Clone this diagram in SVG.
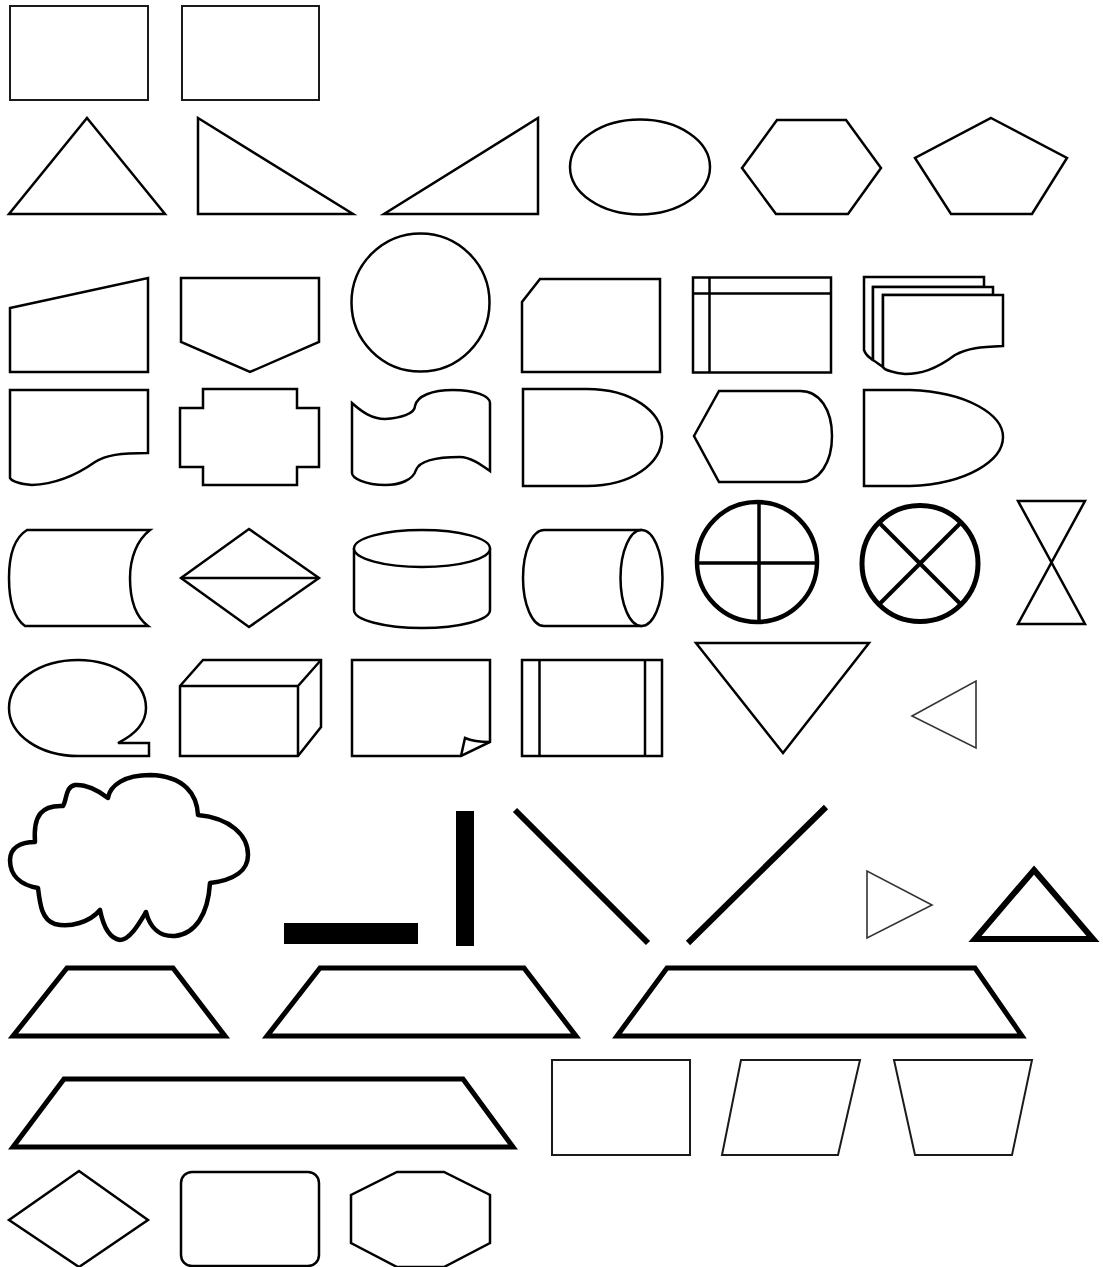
<svg xmlns="http://www.w3.org/2000/svg" width="1103" height="1267" viewBox="0 0 1103 1267">
<style>
.s{fill:#fff;stroke:#000;stroke-width:2.5;stroke-linejoin:miter}
.n{fill:none;stroke:#000;stroke-width:2.5}
.r1{fill:#fff;stroke:#1a1a1a;stroke-width:2}
.g{fill:#fff;stroke:#333;stroke-width:1.6}
.tk{fill:#fff;stroke:#000;stroke-width:5;stroke-linejoin:miter}
.bar{fill:#000}
.ln{stroke:#000;stroke-width:6;fill:none}
</style>
<rect width="1103" height="1267" fill="#fff"/>
<g id="rect1"><rect class="r1" x="10" y="6" width="138" height="94"/></g>
<g id="rect2"><rect class="r1" x="182" y="6" width="137" height="94"/></g>

<g id="triangle"><polygon class="s" points="87,118 165,214 9,214"/></g>
<g id="rtri1"><polygon class="s" points="198,118 353,214 198,214"/></g>
<g id="rtri2"><polygon class="s" points="538,118 538,214 384,214"/></g>
<g id="ellipse"><ellipse class="s" cx="640" cy="167" rx="70" ry="47.5"/></g>
<g id="hexagon"><polygon class="s" points="742,168 777,120 846,120 881,168 848,214 776,214"/></g>
<g id="pentagon"><polygon class="s" points="991,118 1067,158 1032,214 951,214 915,158"/></g>

<g id="manualInput"><polygon class="s" points="10,308 148,278 148,372 10,372"/></g>
<g id="offpage"><polygon class="s" points="181,278 319,278 319,342 250,372 181,342"/></g>
<g id="circle"><circle class="s" cx="420.5" cy="302.5" r="69"/></g>
<g id="card"><polygon class="s" points="540,279 660,279 660,372 522,372 522,302"/></g>
<g id="internalStorage"><rect class="s" x="693" y="277.5" width="138" height="95"/><line class="n" x1="693" y1="293.5" x2="831" y2="293.5"/><line class="n" x1="709.5" y1="277.5" x2="709.5" y2="372.5"/></g>
<g id="multiDoc">
<path class="s" d="M864,277 H984 V287 H873 V360 C870,358 866,356 864,350 Z"/>
<path class="s" d="M873,287 H993 V295 H883 V367 C880,365 876,362 873,360 Z"/>
<path class="s" d="M883,295 H1003 V346 C980,347 968,348 955,355 C935,370 920,374 905,374 C895,373 884,370 883,367 Z"/>
</g>

<g id="document"><path class="s" d="M10,390 H148 V453 C120,453 106,455 95,462 C78,474 58,484 32,485 C20,484 12,481 10,478 Z"/></g>
<g id="preparation"><polygon class="s" points="203,389 297,389 297,408 319,408 319,467 297,467 297,485 203,485 203,467 180,467 180,408 203,408"/></g>
<g id="punchedTape"><path class="s" d="M352,403 C362,412 372,419 385,419 C400,418 415,414 415,406 C417,396 432,390 453,390 C475,390 490,396 490,403 L490,471 C480,464 470,457 460,457 C440,457 420,460 416,470 C413,480 400,485 385,485 C365,485 352,478 352,473 Z"/></g>
<g id="delay"><path class="s" d="M523,389 H587 C632,389 662,412 662,437 C662,463 632,486 587,486 H523 Z"/></g>
<g id="display"><path class="s" d="M694,436 L719,391 H800 C820,391 832,410 832,436 C832,462 820,482 800,482 H719 Z"/></g>
<g id="delay2"><path class="s" d="M864,390 H910 C968,392 1003,415 1003,437 C1003,460 968,484 910,486 H864 Z"/></g>

<g id="storedData"><path class="s" d="M27,530 H150 C137,540 130,558 130,578 C130,600 136,617 148,626 H25 C14,618 9,600 9,578 C9,555 14,538 27,530 Z"/></g>
<g id="sortDiamond"><polygon class="s" points="249,529 319,578 249,627 181,578"/><line class="n" x1="181" y1="578" x2="319" y2="578"/></g>
<g id="cylinder"><path class="s" d="M354,548 V610 A68,18 0 0 0 490,610 V548"/><ellipse class="s" cx="422" cy="548.5" rx="68" ry="18.5"/></g>
<g id="hCylinder"><path class="s" d="M642,530 H544 A21,48 0 0 0 544,626 H642"/><ellipse class="s" cx="641.5" cy="578" rx="21" ry="48"/></g>
<g id="orCircle"><circle class="s" style="stroke-width:4.5" cx="757" cy="562" r="60"/><line class="n" style="stroke-width:3.5" x1="759" y1="502" x2="759" y2="622"/><line class="n" style="stroke-width:3.5" x1="697" y1="563" x2="817" y2="563"/></g>
<g id="sumJunction"><circle class="s" style="stroke-width:5" cx="920" cy="563.5" r="58"/><line class="n" style="stroke-width:4" x1="879" y1="522.5" x2="961" y2="604.5"/><line class="n" style="stroke-width:4" x1="961" y1="522.5" x2="879" y2="604.5"/></g>
<g id="collate"><polygon class="s" points="1018,501 1085,501 1018,624 1085,624"/></g>

<g id="callout"><path class="s" d="M118,743 H149 V756 H78 C40,756 9,735 9,708 C9,681 40,660 78,660 C115,660 146,681 146,708 C146,722 136,734 118,743 Z"/></g>
<g id="cube"><path class="s" d="M180,686 L203,660 H321 V727 L298,756 H180 Z"/><path class="n" d="M180,686 H298 L321,660 M298,686 V756"/></g>
<g id="foldedPage"><path class="s" d="M352,660 H490 V742 L461,756 H352 Z"/><path class="n" d="M461,756 L465,738 C474,742 482,742 490,742"/></g>
<g id="predefined"><rect class="s" x="522" y="660" width="140" height="96"/><line class="n" x1="539.5" y1="660" x2="539.5" y2="756"/><line class="n" x1="645" y1="660" x2="645" y2="756"/></g>
<g id="merge"><polygon class="s" points="696,643 869,643 783,753"/></g>
<g id="smallTriLeft"><polygon class="g" points="976,681 976,748 912,716"/></g>

<g id="cloud"><path class="s" style="stroke-width:4.5;stroke-linejoin:round" d="M35,842 C20,842 10,848 10,860 C10,875 20,885 38,888 C40,905 42,920 55,924 C70,928 90,922 100,910 C103,925 108,938 120,940 C130,940 140,922 146,912 C150,928 160,937 175,936 C195,934 208,915 210,883 C235,880 248,870 248,855 C248,835 230,818 198,815 C197,795 185,776 150,775 C125,775 110,785 108,798 C98,790 85,784 75,785 C65,787 67,800 63,806 C42,805 33,815 35,842 Z"/></g>
<g id="hBar"><rect class="bar" x="284" y="923" width="134" height="21"/></g>
<g id="vBar"><rect class="bar" x="456" y="811" width="18" height="135"/></g>
<g id="diag1"><line class="ln" x1="515" y1="810" x2="648" y2="943"/></g>
<g id="diag2"><line class="ln" x1="688" y1="943" x2="826" y2="807"/></g>
<g id="smallTriRight"><polygon class="g" points="867,871 867,938 932,905"/></g>
<g id="thickTri"><polygon class="tk" style="stroke-width:6" points="1034,870 1093,939 975,939"/></g>

<g id="trap1"><polygon class="tk" points="67,968 173,968 225,1036 13,1036"/></g>
<g id="trap2"><polygon class="tk" points="320,968 524,968 576,1036 267,1036"/></g>
<g id="trap3"><polygon class="tk" points="667,968 975,968 1022,1036 617,1036"/></g>
<g id="trap4"><polygon class="tk" points="64,1079 463,1079 513,1147 13,1147"/></g>
<g id="rect3"><rect class="r1" x="552" y="1060" width="138" height="95"/></g>
<g id="parallelogram"><polygon class="r1" points="741,1060 860,1060 838,1155 722,1155"/></g>
<g id="invTrap"><polygon class="r1" points="894,1060 1032,1060 1012,1155 915,1155"/></g>

<g id="diamond"><polygon class="s" points="79,1171 148,1220 79,1267 9,1220"/></g>
<g id="roundRect"><rect class="s" x="181" y="1172" width="138" height="94" rx="11"/></g>
<g id="octagon"><polygon class="s" points="397,1172 444,1172 490,1195 490,1243 444,1267 397,1267 351,1243 351,1195"/></g>
</svg>
